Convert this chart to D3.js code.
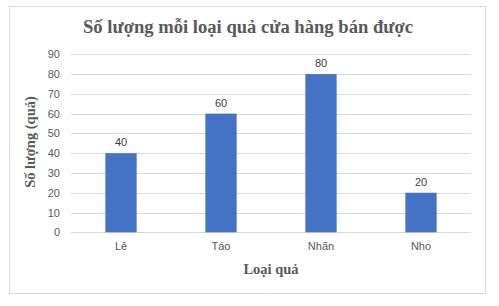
<!DOCTYPE html>
<html>
<head>
<meta charset="utf-8">
<script src="https://cdn.jsdelivr.net/npm/d3@7"></script>
<style>
  body { margin: 0; background: #fff; }
  text { font-family: "Liberation Sans", Arial, sans-serif; }
</style>
</head>
<body>
<div id="chart"></div>
<script>
var width = 499;
var height = 306;

// data
var categories = ["Lê", "Táo", "Nhãn", "Nho"];
var values = [40, 60, 80, 20];
var yTicks = [0, 10, 20, 30, 40, 50, 60, 70, 80, 90];

var plot = { left: 71, right: 471, top: 54.3, bottom: 232.3 };

var svg = d3.select("#chart").append("svg")
  .attr("width", width)
  .attr("height", height);

// chart frame
svg.append("rect")
  .attr("x", 9.5).attr("y", 6.5)
  .attr("width", 476).attr("height", 287)
  .attr("fill", "#fff")
  .attr("stroke", "#d9d9d9");

var x = d3.scaleBand()
  .domain(categories)
  .range([plot.left, plot.right])
  .paddingInner(0.687)
  .paddingOuter(0.3435);

var y = d3.scaleLinear()
  .domain([0, 90])
  .range([plot.bottom, plot.top]);

// gridlines
svg.append("g").selectAll("line").data(yTicks).enter().append("line")
  .attr("x1", plot.left).attr("x2", plot.right)
  .attr("y1", d => Math.round(y(d)) + 0.5)
  .attr("y2", d => Math.round(y(d)) + 0.5)
  .attr("stroke", "#d9d9d9");

// y axis labels
var yAxis = d3.axisLeft(y).tickValues(yTicks).tickSize(0).tickPadding(11);
var gy = svg.append("g").attr("transform", `translate(${plot.left},0)`).call(yAxis);
gy.select(".domain").remove();
gy.selectAll("text").attr("fill", "#595959").style("font-size", "11px");

// bars
svg.append("g").selectAll("rect").data(values).enter().append("rect")
  .attr("x", (d, i) => x(categories[i]))
  .attr("y", d => y(d))
  .attr("width", x.bandwidth())
  .attr("height", d => y(0) - y(d))
  .attr("fill", "#4472c4");

// data labels
svg.append("g").selectAll("text").data(values).enter().append("text")
  .attr("x", (d, i) => x(categories[i]) + x.bandwidth() / 2)
  .attr("y", d => y(d) - 7)
  .attr("text-anchor", "middle")
  .attr("fill", "#404040")
  .style("font-size", "11px")
  .text(d => d);

// x axis labels
var xAxis = d3.axisBottom(x).tickSize(0).tickPadding(10);
var gx = svg.append("g").attr("transform", `translate(0,${plot.bottom})`).call(xAxis);
gx.select(".domain").remove();
gx.selectAll("text").attr("fill", "#595959").style("font-size", "11px");

// titles
svg.append("text")
  .attr("x", 248).attr("y", 33)
  .attr("text-anchor", "middle")
  .attr("fill", "#595959")
  .style("font-family", "'Liberation Serif', 'Times New Roman', serif")
  .style("font-weight", "bold")
  .style("font-size", "18.6px")
  .text("Số lượng mỗi loại quả cửa hàng bán được");

svg.append("text")
  .attr("x", (plot.left + plot.right) / 2).attr("y", 274)
  .attr("text-anchor", "middle")
  .attr("fill", "#595959")
  .style("font-family", "'Liberation Serif', 'Times New Roman', serif")
  .style("font-weight", "bold")
  .style("font-size", "14.5px")
  .text("Loại quả");

svg.append("text")
  .attr("transform", "translate(35,142) rotate(-90)")
  .attr("text-anchor", "middle")
  .attr("fill", "#595959")
  .style("font-family", "'Liberation Serif', 'Times New Roman', serif")
  .style("font-weight", "bold")
  .style("font-size", "14.5px")
  .text("Số lượng (quả)");
</script>
</body>
</html>
